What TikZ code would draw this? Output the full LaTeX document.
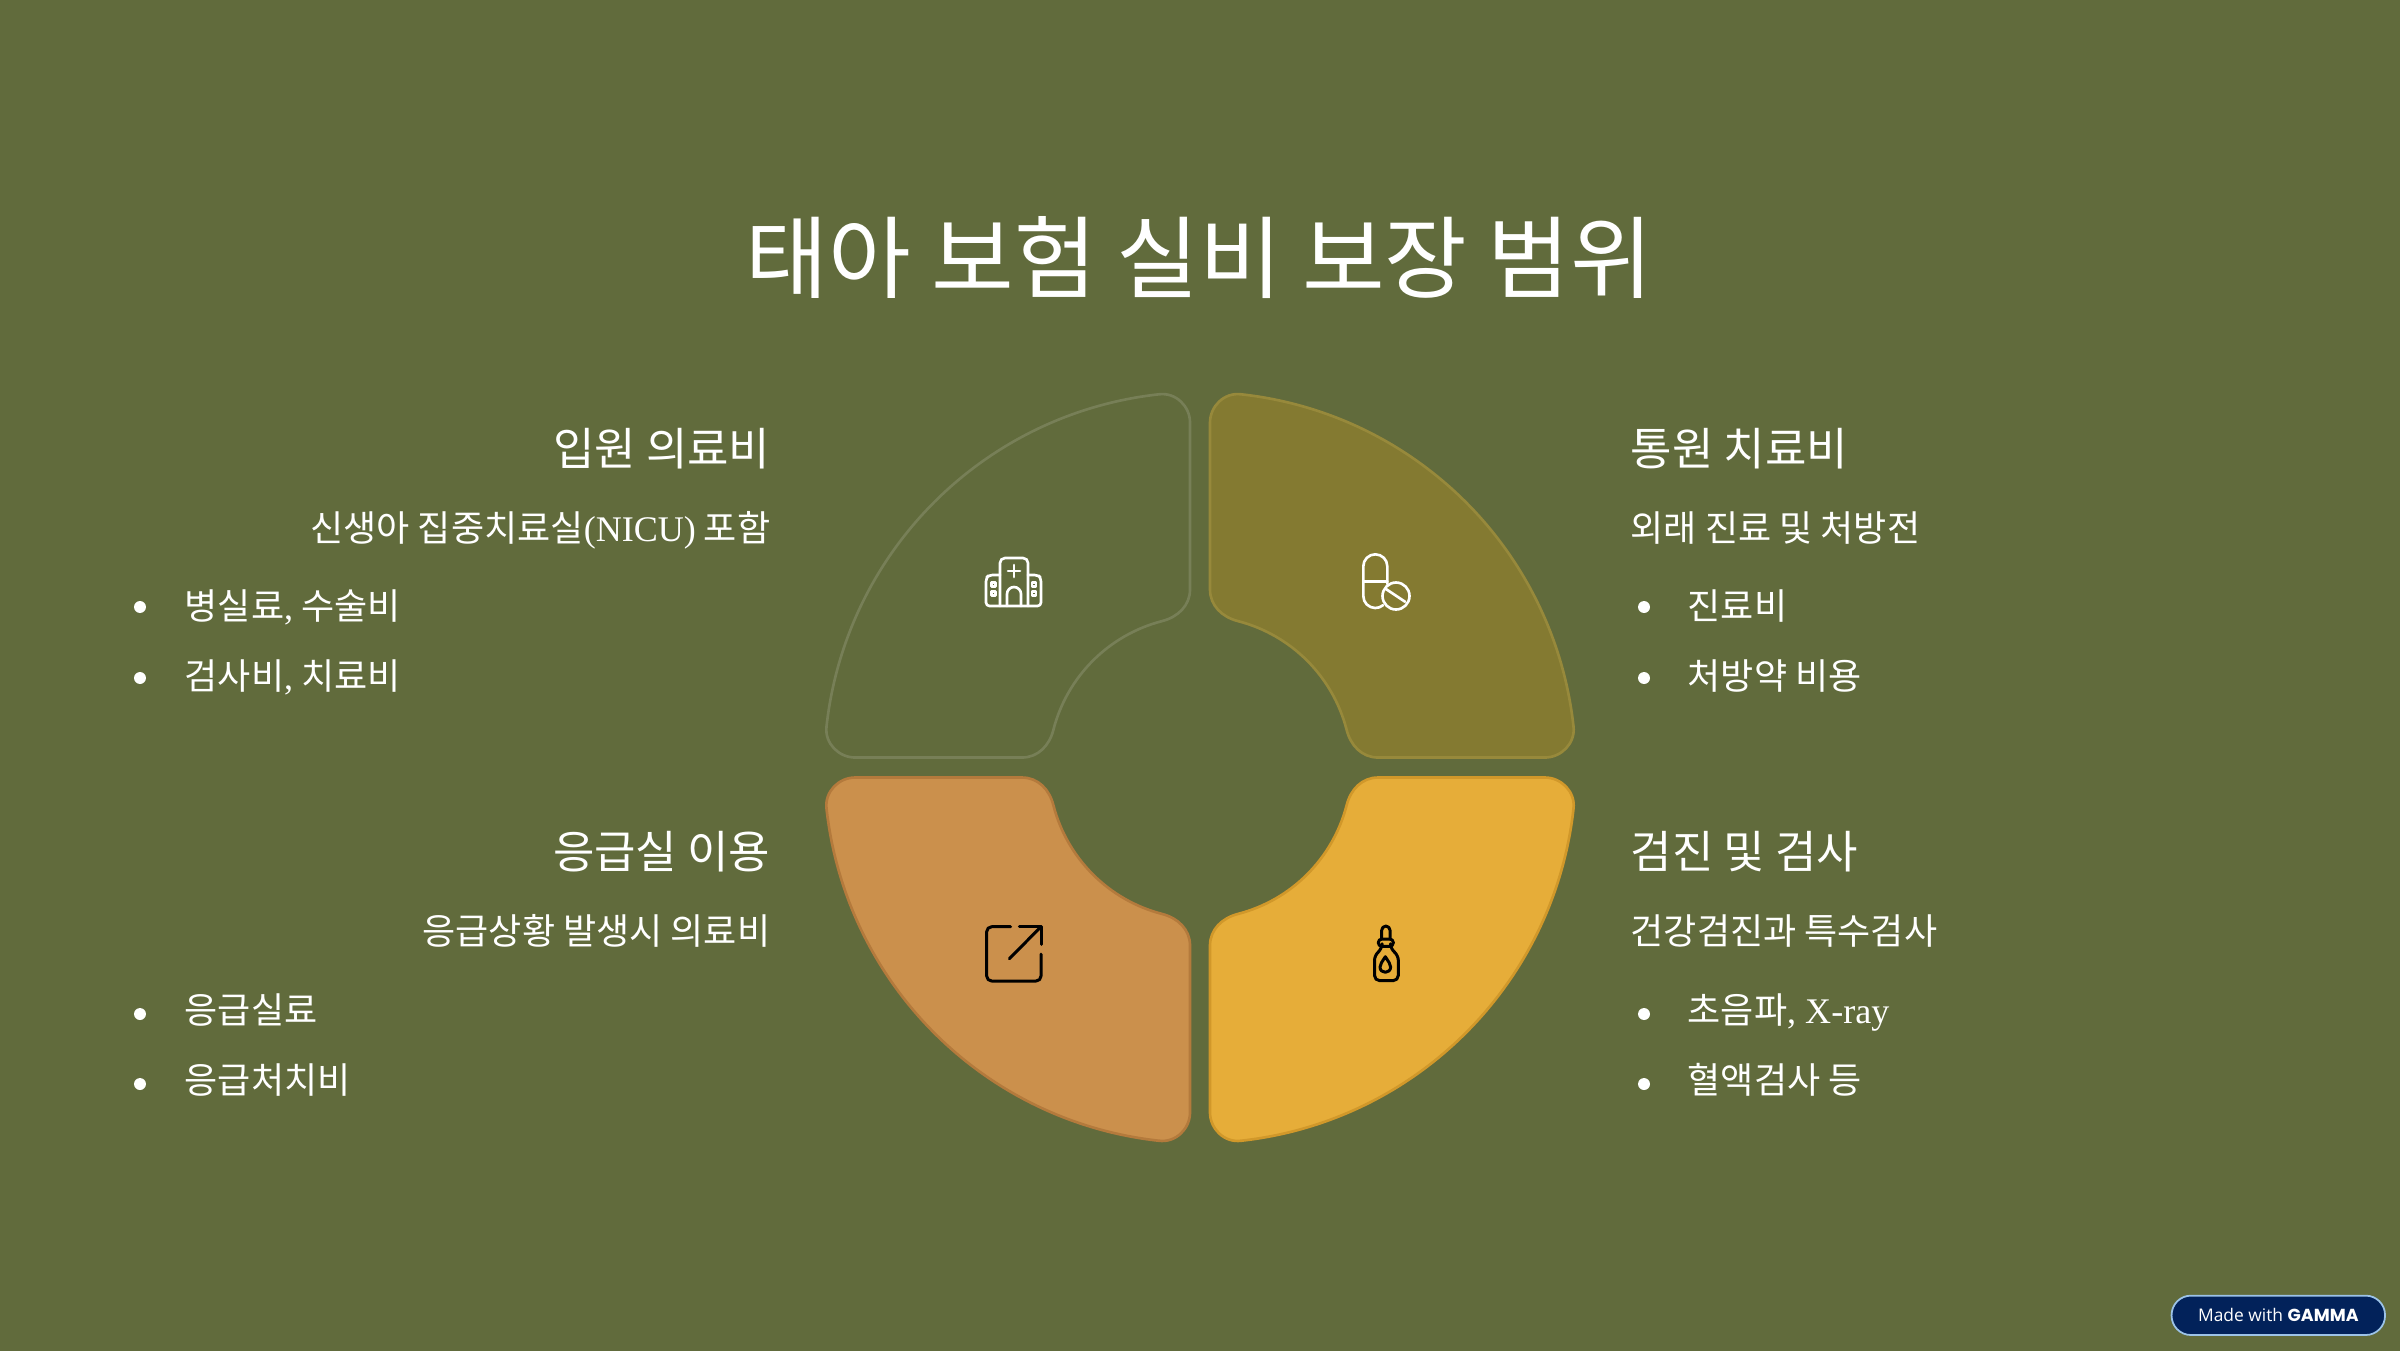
\documentclass[tikz,border=0pt]{standalone}
\usepackage{fontspec}
\setmainfont{Noto Sans CJK KR}
\newfontfamily\latfont{Liberation Serif}
\newfontfamily\badgefont{Open Sans}
\newfontfamily\brandfont{Poppins}
\usetikzlibrary{calc}
\definecolor{bgolive}{HTML}{616B3C}
\definecolor{ringa}{HTML}{777F57}
\definecolor{filb}{HTML}{847A31}
\definecolor{ringb}{HTML}{97893B}
\definecolor{filc}{HTML}{CB904C}
\definecolor{ringc}{HTML}{B47A3C}
\definecolor{fild}{HTML}{E6AD39}
\definecolor{ringd}{HTML}{D1982A}
\definecolor{badgeblue}{HTML}{02225A}
\definecolor{badgeline}{HTML}{9CC3E8}
\tikzset{
  titletxt/.style = {text=white, inner sep=0pt, anchor=base, font=\fontsize{25.55}{30}\selectfont},
  headtxt/.style  = {text=white, inner sep=0pt, font=\fontsize{12.8}{15}\selectfont},
  bodytxt/.style  = {text=white, inner sep=0pt, font=\fontsize{10.25}{13}\selectfont},
  dot/.style      = {fill=white, circle, minimum size=3.4pt, inner sep=0pt},
  petal/.style    = {line width=0.75pt},
  iconw/.style    = {draw=white, line width=0.75pt, line cap=round, line join=round},
  iconk/.style    = {draw=black, line width=0.85pt, line cap=round, line join=round},
}
\newcommand{\petalshape}{(10,178) .. controls (10,162) and (22,150.5) .. (38,146.4)
  arc[start angle=75.5, end angle=14.5, radius=151.3]
  .. controls (150.5,22) and (162,10) .. (178,10) -- (345,10)
  .. controls (361,10) and (375.5,24) .. (373.5,41)
  arc[start angle=6.3, end angle=83.7, radius=375.7]
  .. controls (24,375.5) and (10,361) .. (10,345) -- cycle}
\begin{document}
\begin{tikzpicture}[x=0.01cm,y=-0.01cm]
  \useasboundingbox (0,0) rectangle (2400,1350);
  \fill[bgolive] (-5,-5) rectangle (2405,1355);
  \node[titletxt] (title) at (1199.5,291) {태아 보험 실비 보장 범위};
  % four petals
  \coordinate (hub) at (1200,767.5);
  \draw[petal, draw=ringa, shift={(hub)}, xscale=-1, yscale=-1] \petalshape;
  \draw[petal, draw=ringb, fill=filb, shift={(hub)}, yscale=-1] \petalshape;
  \draw[petal, draw=ringc, fill=filc, shift={(hub)}, xscale=-1] \petalshape;
  \draw[petal, draw=ringd, fill=fild, shift={(hub)}] \petalshape;
  % left column
  \node[headtxt, anchor=base east] (stay) at (771,465.5) {입원 의료비};
  \node[bodytxt, anchor=base east] (staysub) at ($(stay.base east)+(0,76)$) {신생아 집중치료실{\latfont (NICU)} 포함};
  \node[bodytxt, anchor=base west] (stayone) at (184,619.5) {병실료{\latfont ,} 수술비};
  \node[bodytxt, anchor=base west] (staytwo) at ($(stayone.base west)+(0,70)$) {검사비{\latfont ,} 치료비};
  \node[dot] (staydota) at (140,607) {};
  \node[dot] (staydotb) at (140,678) {};
  \node[headtxt, anchor=base east] (emer) at (771,868.5) {응급실 이용};
  \node[bodytxt, anchor=base east] (emersub) at ($(emer.base east)+(0,76)$) {응급상황 발생시 의료비};
  \node[bodytxt, anchor=base west] (emerone) at (184,1023.5) {응급실료};
  \node[bodytxt, anchor=base west] (emertwo) at ($(emerone.base west)+(0,70)$) {응급처치비};
  \node[dot] (emerdota) at (140,1014) {};
  \node[dot] (emerdotb) at (140,1084) {};
  % right column
  \node[headtxt, anchor=base west] (visit) at (1630,465.5) {통원 치료비};
  \node[bodytxt, anchor=base west] (visitsub) at ($(visit.base west)+(0,76)$) {외래 진료 및 처방전};
  \node[bodytxt, anchor=base west] (visitone) at (1687,619.5) {진료비};
  \node[bodytxt, anchor=base west] (visittwo) at ($(visitone.base west)+(0,70)$) {처방약 비용};
  \node[dot] (visitdota) at (1644,607) {};
  \node[dot] (visitdotb) at (1644,678) {};
  \node[headtxt, anchor=base west] (check) at (1630,868.5) {검진 및 검사};
  \node[bodytxt, anchor=base west] (checksub) at ($(check.base west)+(0,76)$) {건강검진과 특수검사};
  \node[bodytxt, anchor=base west] (checkone) at (1687,1023.5) {초음파{\latfont , X-ray}};
  \node[bodytxt, anchor=base west] (checktwo) at ($(checkone.base west)+(0,70)$) {혈액검사 등};
  \node[dot] (checkdota) at (1644,1014) {};
  \node[dot] (checkdotb) at (1644,1084) {};
  % hospital icon
  \draw[iconw, rounded corners=1pt] (1000,575) -- (989,575) -- (986,578) -- (986,606) -- (1041,606) -- (1041,578) -- (1038,575) -- (1028,575);
  \draw[iconw, rounded corners=1.4pt] (1000,606) -- (1000,558) -- (1028,558) -- (1028,606);
  \draw[iconw] (1014,565) -- (1014,577) (1008,571) -- (1020,571);
  \draw[iconw] (1007,606) -- (1007,594) arc[start angle=180, end angle=360, radius=7] -- (1021,606);
  \foreach \wx in {993.5,1034} \foreach \wy in {584.5,593.5}
    \draw[iconw] (\wx-2,\wy-2) rectangle (\wx+2,\wy+2);
  % capsule icon
  \draw[iconw] (1387.3,584) -- (1387.3,566.3) arc[start angle=360, end angle=180, radius=12]
    -- (1363.3,596) arc[start angle=180, end angle=50, radius=12];
  \draw[iconw] (1363.3,581.7) -- (1387.3,581.7);
  \draw[iconw] (1396,596) circle[radius=13.5];
  \draw[iconw] (1386,589) -- (1405,601.7);
  % arrow icon
  \draw[iconk, rounded corners=1.4pt] (1010.7,926.7) -- (986.7,926.7) -- (986.7,981) -- (1041,981) -- (1041,954);
  \draw[iconk] (1019.3,926.7) -- (1041,926.7) -- (1041,944.3);
  \draw[iconk] (1009.3,958.7) -- (1041,926.7);
  % dropper icon
  \draw[iconk, rounded corners=1pt] (1378.3,939) rectangle (1393.3,946.3);
  \draw[iconk] (1381.7,939) -- (1381.7,930.2) arc[start angle=180, end angle=360, radius=4.15] -- (1390,939);
  \draw[iconk, rounded corners=1.5pt] (1382,946.3) -- (1382,949) -- (1374.5,955) -- (1374.5,980.7) -- (1398.3,980.7) -- (1398.3,955) -- (1390.5,949) -- (1390.5,946.3);
  \draw[iconk] (1385.3,956.7) .. controls (1382,962) and (1380,964) .. (1380,967) .. controls (1380,974) and (1390.6,974) .. (1390.6,967) .. controls (1390.6,964) and (1388.6,962) .. (1385.3,956.7) -- cycle;
  % badge
  \node[draw=badgeline, fill=badgeblue, rounded corners=5.5pt, line width=0.5pt, minimum width=60.7pt, minimum height=11.2pt, inner sep=0pt,
        text=white, font=\fontsize{4.95}{6}\selectfont] (badge) at (2278.3,1315.3) {\badgefont Made with {\brandfont\bfseries GAMMA}};
\end{tikzpicture}
\end{document}
